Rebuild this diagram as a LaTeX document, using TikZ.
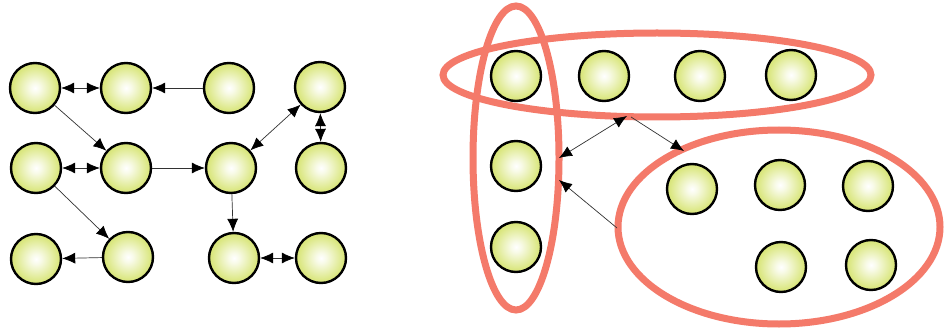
\documentclass[tikz,border=0pt]{standalone}
\usetikzlibrary{arrows.meta}
\definecolor{ygreen}{RGB}{190,212,30}
\definecolor{coral}{RGB}{244,122,106}
\definecolor{edgegray}{RGB}{50,50,50}
\pgfdeclareradialshading{ballshade}{\pgfpoint{0bp}{0bp}}{color(0bp)=(white); color(5bp)=(white!90!ygreen); color(22bp)=(ygreen!55!white); color(40bp)=(ygreen!92!white); color(50bp)=(ygreen)}
\tikzset{
  tip/.style={},
  link/.style={draw=edgegray, line width=0.7pt, -{Latex[length=13pt,width=11pt,color=black]}},
  blink/.style={draw=edgegray, line width=0.7pt, {Latex[length=13pt,width=11pt,color=black]}-{Latex[length=13pt,width=11pt,color=black]}},
  ball/.style={circle, draw=black, line width=2.4pt, minimum size=50pt, inner sep=0pt, shading=ballshade},
  group/.style={draw=coral, line width=7pt}
}
\begin{document}
\begin{tikzpicture}[x=1pt,y=-1pt]
\useasboundingbox[fill=white] (0,0) rectangle (944,331);
% left graph
\node[ball] (a1) at (35,88) {};
\node[ball] (a2) at (126,88) {};
\node[ball] (a3) at (229,88) {};
\node[ball] (a4) at (320,87) {};
\node[ball] (b1) at (36,168) {};
\node[ball] (b2) at (126,168) {};
\node[ball] (b3) at (231,168) {};
\node[ball] (b4) at (321,168) {};
\node[ball] (c1) at (36,259) {};
\node[ball] (c2) at (128,257) {};
\node[ball] (c3) at (234,258) {};
\node[ball] (c4) at (321,258) {};
\draw[blink] (a1) -- (a2);
\draw[link] (a3) -- (a2);
\draw[link] (a1) -- (b2);
\draw[blink] (b1) -- (b2);
\draw[link] (b2) -- (b3);
\draw[blink] (b3) -- (a4);
\draw[blink] (a4) -- (b4);
\draw[link] (b1) -- (c2);
\draw[link] (c2) -- (c1);
\draw[link] (b3) -- (c3);
\draw[blink] (c3) -- (c4);
% right groups
\draw[group] (657,75) ellipse [x radius=214, y radius=42];
\draw[group] (516,158) ellipse [x radius=43, y radius=152];
\draw[group] (779,227) ellipse [x radius=161, y radius=97];
\node[ball] (t1) at (516,76) {};
\node[ball] (t2) at (604,76) {};
\node[ball] (t3) at (700,76) {};
\node[ball] (t4) at (791,75) {};
\node[ball] (l1) at (516,166) {};
\node[ball] (l2) at (516,247) {};
\node[ball] (r1) at (692,189) {};
\node[ball] (r2) at (780,185) {};
\node[ball] (r3) at (868,186) {};
\node[ball] (r4) at (781,267) {};
\node[ball] (r5) at (871,265) {};
\coordinate (p1) at (627,116);
\coordinate (q1) at (559,158);
\coordinate (p2) at (631,117);
\coordinate (q2) at (684,151);
\coordinate (p3) at (617,228);
\coordinate (q3) at (559,180);
\draw[blink] (q1) -- (p1);
\draw[link] (p2) -- (q2);
\draw[link] (p3) -- (q3);
\end{tikzpicture}
\end{document}
